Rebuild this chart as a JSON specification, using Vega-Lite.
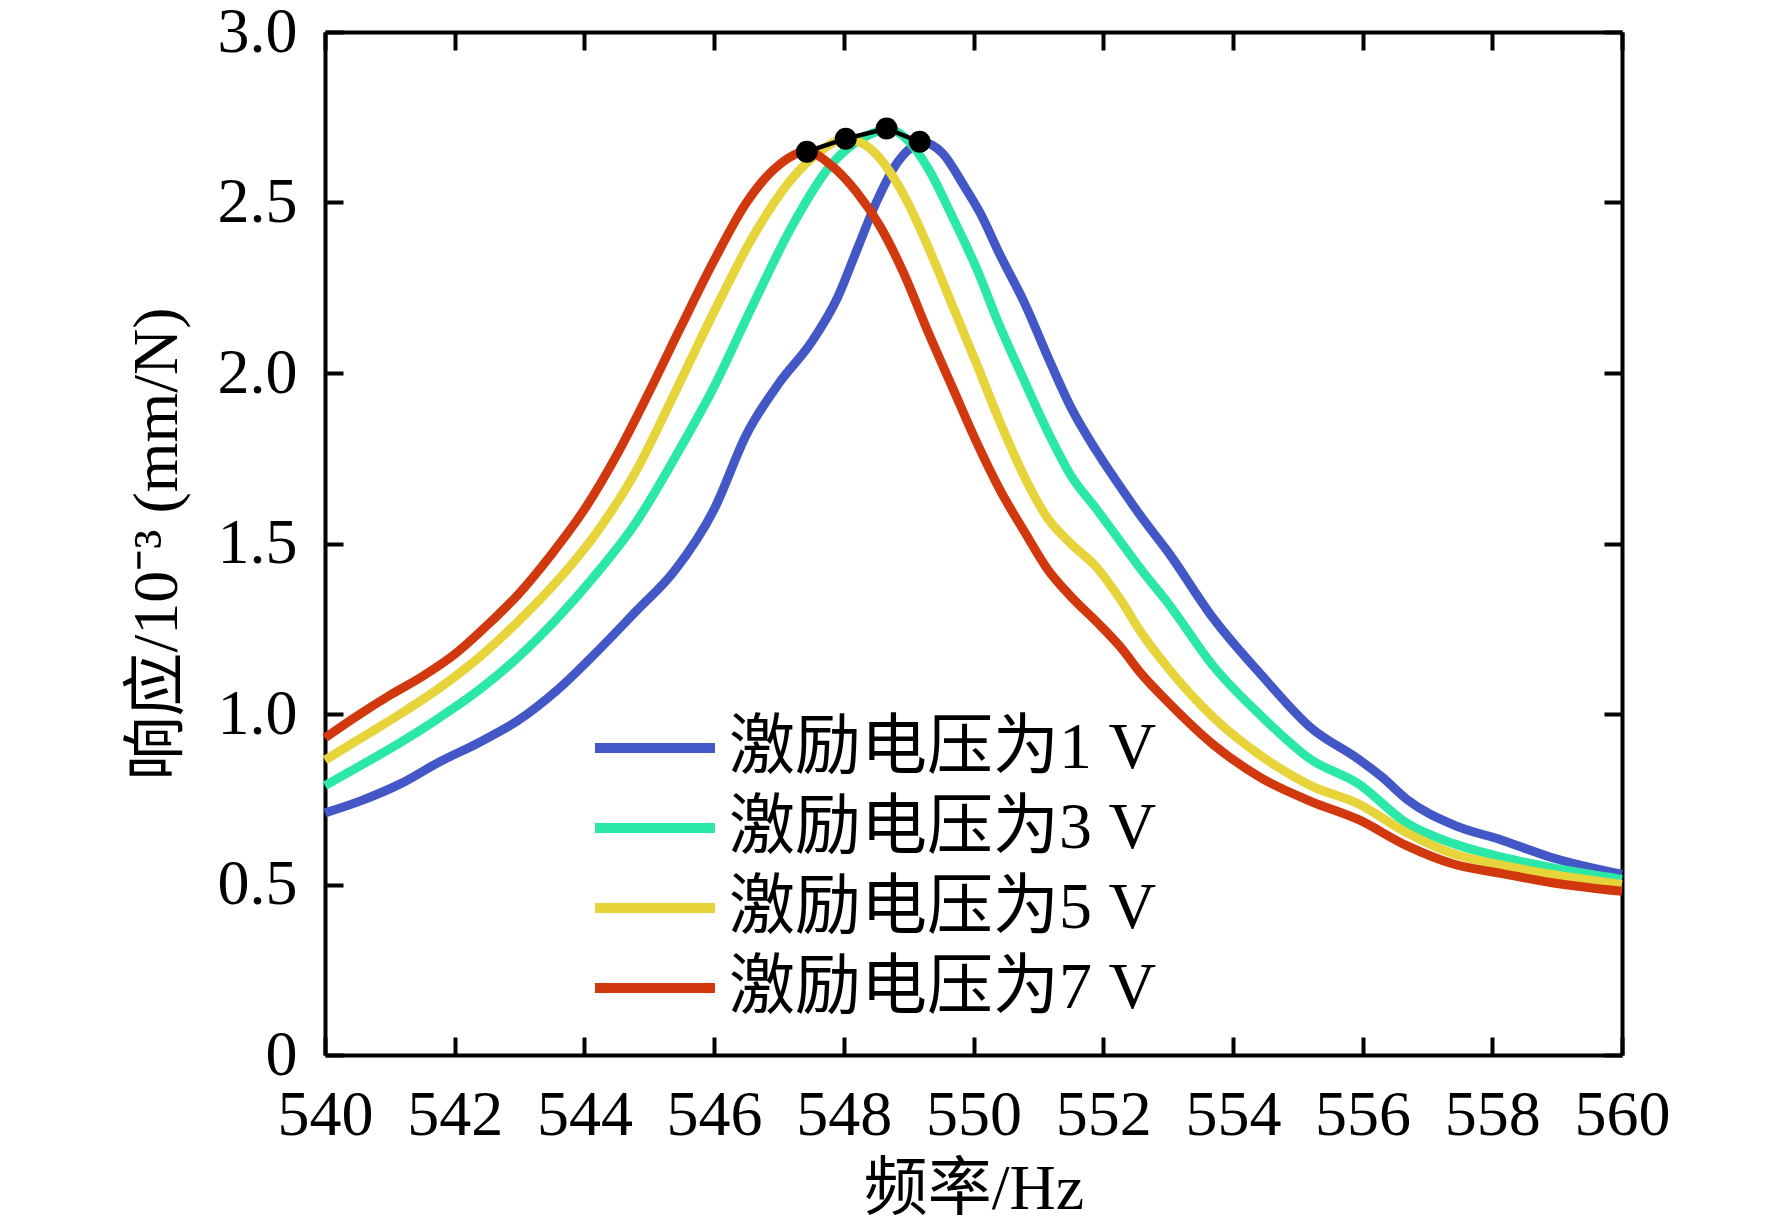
{
  "$schema": "https://vega.github.io/schema/vega-lite/v6.json",
  "width": 1297,
  "height": 1023,
  "autosize": {"type": "none"},
  "padding": {"left": 325, "top": 32, "right": 150, "bottom": 174},
  "background": "white",
  "config": {
    "view": {"stroke": null},
    "font": "'Liberation Serif', 'Noto Sans CJK SC'",
    "axis": {
      "grid": false,
      "domainColor": "black",
      "domainWidth": 4,
      "tickColor": "black",
      "tickWidth": 4,
      "tickSize": -18,
      "labelFont": "'Liberation Serif', 'Noto Sans CJK SC'",
      "labelFontSize": 64,
      "labelColor": "black",
      "labelPadding": 46,
      "labelOverlap": false,
      "labelFlush": false,
      "titleFont": "'Liberation Serif', 'Noto Sans CJK SC'",
      "titleFontSize": 64,
      "titleFontWeight": "normal",
      "titleColor": "black"
    },
    "legend": {
      "labelFont": "'Liberation Serif', 'Noto Sans CJK SC'",
      "labelFontSize": 66,
      "labelColor": "black",
      "labelLimit": 0
    }
  },
  "datasets": {
    "curves": [
      {"f": 540, "v": 0.71, "s": "激励电压为1 V"},
      {"f": 540.56, "v": 0.746, "s": "激励电压为1 V"},
      {"f": 541.16, "v": 0.795, "s": "激励电压为1 V"},
      {"f": 541.77, "v": 0.86, "s": "激励电压为1 V"},
      {"f": 542.37, "v": 0.916, "s": "激励电压为1 V"},
      {"f": 542.97, "v": 0.98, "s": "激励电压为1 V"},
      {"f": 543.58, "v": 1.07, "s": "激励电压为1 V"},
      {"f": 544.18, "v": 1.18, "s": "激励电压为1 V"},
      {"f": 544.79, "v": 1.3, "s": "激励电压为1 V"},
      {"f": 545.39, "v": 1.42, "s": "激励电压为1 V"},
      {"f": 546.0, "v": 1.6, "s": "激励电压为1 V"},
      {"f": 546.5, "v": 1.82, "s": "激励电压为1 V"},
      {"f": 547.0, "v": 1.97, "s": "激励电压为1 V"},
      {"f": 547.5, "v": 2.09, "s": "激励电压为1 V"},
      {"f": 547.9, "v": 2.22, "s": "激励电压为1 V"},
      {"f": 548.2, "v": 2.36, "s": "激励电压为1 V"},
      {"f": 548.5, "v": 2.5, "s": "激励电压为1 V"},
      {"f": 548.8, "v": 2.61, "s": "激励电压为1 V"},
      {"f": 549.0, "v": 2.655, "s": "激励电压为1 V"},
      {"f": 549.22, "v": 2.676, "s": "激励电压为1 V"},
      {"f": 549.52, "v": 2.645, "s": "激励电压为1 V"},
      {"f": 549.85, "v": 2.55, "s": "激励电压为1 V"},
      {"f": 550.1, "v": 2.47, "s": "激励电压为1 V"},
      {"f": 550.4, "v": 2.35, "s": "激励电压为1 V"},
      {"f": 550.8, "v": 2.2, "s": "激励电压为1 V"},
      {"f": 551.14, "v": 2.05, "s": "激励电压为1 V"},
      {"f": 551.5, "v": 1.9, "s": "激励电压为1 V"},
      {"f": 551.9, "v": 1.77, "s": "激励电压为1 V"},
      {"f": 552.25, "v": 1.67, "s": "激励电压为1 V"},
      {"f": 552.6, "v": 1.575, "s": "激励电压为1 V"},
      {"f": 553.0, "v": 1.475, "s": "激励电压为1 V"},
      {"f": 553.7, "v": 1.28, "s": "激励电压为1 V"},
      {"f": 554.46, "v": 1.11, "s": "激励电压为1 V"},
      {"f": 555.2, "v": 0.96, "s": "激励电压为1 V"},
      {"f": 555.94, "v": 0.867, "s": "激励电压为1 V"},
      {"f": 556.3, "v": 0.815, "s": "激励电压为1 V"},
      {"f": 556.68, "v": 0.75, "s": "激励电压为1 V"},
      {"f": 557.4, "v": 0.675, "s": "激励电压为1 V"},
      {"f": 558.15, "v": 0.63, "s": "激励电压为1 V"},
      {"f": 558.9, "v": 0.58, "s": "激励电压为1 V"},
      {"f": 560, "v": 0.53, "s": "激励电压为1 V"},

      {"f": 540, "v": 0.79, "s": "激励电压为3 V"},
      {"f": 540.56, "v": 0.85, "s": "激励电压为3 V"},
      {"f": 541.16, "v": 0.916, "s": "激励电压为3 V"},
      {"f": 541.77, "v": 0.99, "s": "激励电压为3 V"},
      {"f": 542.37, "v": 1.07, "s": "激励电压为3 V"},
      {"f": 542.97, "v": 1.165, "s": "激励电压为3 V"},
      {"f": 543.58, "v": 1.28, "s": "激励电压为3 V"},
      {"f": 544.18, "v": 1.41, "s": "激励电压为3 V"},
      {"f": 544.79, "v": 1.56, "s": "激励电压为3 V"},
      {"f": 545.39, "v": 1.75, "s": "激励电压为3 V"},
      {"f": 546.0, "v": 1.96, "s": "激励电压为3 V"},
      {"f": 546.6, "v": 2.2, "s": "激励电压为3 V"},
      {"f": 547.2, "v": 2.43, "s": "激励电压为3 V"},
      {"f": 547.8, "v": 2.61, "s": "激励电压为3 V"},
      {"f": 548.3, "v": 2.69, "s": "激励电压为3 V"},
      {"f": 548.71, "v": 2.715, "s": "激励电压为3 V"},
      {"f": 549.0, "v": 2.68, "s": "激励电压为3 V"},
      {"f": 549.3, "v": 2.6, "s": "激励电压为3 V"},
      {"f": 549.67, "v": 2.46, "s": "激励电压为3 V"},
      {"f": 550.04, "v": 2.31, "s": "激励电压为3 V"},
      {"f": 550.4, "v": 2.14, "s": "激励电压为3 V"},
      {"f": 550.8, "v": 1.97, "s": "激励电压为3 V"},
      {"f": 551.14, "v": 1.83, "s": "激励电压为3 V"},
      {"f": 551.5, "v": 1.7, "s": "激励电压为3 V"},
      {"f": 551.9, "v": 1.6, "s": "激励电压为3 V"},
      {"f": 552.25, "v": 1.51, "s": "激励电压为3 V"},
      {"f": 552.6, "v": 1.42, "s": "激励电压为3 V"},
      {"f": 553.0, "v": 1.325, "s": "激励电压为3 V"},
      {"f": 553.7, "v": 1.14, "s": "激励电压为3 V"},
      {"f": 554.46, "v": 0.99, "s": "激励电压为3 V"},
      {"f": 555.2, "v": 0.867, "s": "激励电压为3 V"},
      {"f": 555.94, "v": 0.795, "s": "激励电压为3 V"},
      {"f": 556.68, "v": 0.68, "s": "激励电压为3 V"},
      {"f": 557.4, "v": 0.62, "s": "激励电压为3 V"},
      {"f": 558.15, "v": 0.58, "s": "激励电压为3 V"},
      {"f": 558.9, "v": 0.55, "s": "激励电压为3 V"},
      {"f": 560, "v": 0.515, "s": "激励电压为3 V"},

      {"f": 540, "v": 0.865, "s": "激励电压为5 V"},
      {"f": 540.56, "v": 0.93, "s": "激励电压为5 V"},
      {"f": 541.16, "v": 1.0, "s": "激励电压为5 V"},
      {"f": 541.77, "v": 1.077, "s": "激励电压为5 V"},
      {"f": 542.37, "v": 1.165, "s": "激励电压为5 V"},
      {"f": 542.97, "v": 1.27, "s": "激励电压为5 V"},
      {"f": 543.58, "v": 1.39, "s": "激励电压为5 V"},
      {"f": 544.18, "v": 1.53, "s": "激励电压为5 V"},
      {"f": 544.79, "v": 1.71, "s": "激励电压为5 V"},
      {"f": 545.39, "v": 1.94, "s": "激励电压为5 V"},
      {"f": 546.0, "v": 2.18, "s": "激励电压为5 V"},
      {"f": 546.6, "v": 2.4, "s": "激励电压为5 V"},
      {"f": 547.2, "v": 2.57, "s": "激励电压为5 V"},
      {"f": 547.6, "v": 2.645, "s": "激励电压为5 V"},
      {"f": 548.03, "v": 2.687, "s": "激励电压为5 V"},
      {"f": 548.42, "v": 2.656, "s": "激励电压为5 V"},
      {"f": 548.93, "v": 2.52, "s": "激励电压为5 V"},
      {"f": 549.3, "v": 2.37, "s": "激励电压为5 V"},
      {"f": 549.67, "v": 2.2, "s": "激励电压为5 V"},
      {"f": 550.04, "v": 2.03, "s": "激励电压为5 V"},
      {"f": 550.4, "v": 1.86, "s": "激励电压为5 V"},
      {"f": 550.8, "v": 1.69, "s": "激励电压为5 V"},
      {"f": 551.14, "v": 1.575, "s": "激励电压为5 V"},
      {"f": 551.5, "v": 1.5, "s": "激励电压为5 V"},
      {"f": 551.9, "v": 1.43, "s": "激励电压为5 V"},
      {"f": 552.25, "v": 1.34, "s": "激励电压为5 V"},
      {"f": 552.6, "v": 1.235, "s": "激励电压为5 V"},
      {"f": 553.0, "v": 1.135, "s": "激励电压为5 V"},
      {"f": 553.7, "v": 0.99, "s": "激励电压为5 V"},
      {"f": 554.46, "v": 0.874, "s": "激励电压为5 V"},
      {"f": 555.2, "v": 0.79, "s": "激励电压为5 V"},
      {"f": 555.94, "v": 0.736, "s": "激励电压为5 V"},
      {"f": 556.68, "v": 0.652, "s": "激励电压为5 V"},
      {"f": 557.4, "v": 0.59, "s": "激励电压为5 V"},
      {"f": 558.15, "v": 0.557, "s": "激励电压为5 V"},
      {"f": 558.9, "v": 0.53, "s": "激励电压为5 V"},
      {"f": 560, "v": 0.5, "s": "激励电压为5 V"},

      {"f": 540, "v": 0.93, "s": "激励电压为7 V"},
      {"f": 540.5, "v": 0.995, "s": "激励电压为7 V"},
      {"f": 541, "v": 1.055, "s": "激励电压为7 V"},
      {"f": 541.5, "v": 1.11, "s": "激励电压为7 V"},
      {"f": 542, "v": 1.175, "s": "激励电压为7 V"},
      {"f": 542.5, "v": 1.26, "s": "激励电压为7 V"},
      {"f": 543, "v": 1.355, "s": "激励电压为7 V"},
      {"f": 543.5, "v": 1.47, "s": "激励电压为7 V"},
      {"f": 544, "v": 1.6, "s": "激励电压为7 V"},
      {"f": 544.5, "v": 1.76, "s": "激励电压为7 V"},
      {"f": 545, "v": 1.945, "s": "激励电压为7 V"},
      {"f": 545.5, "v": 2.14, "s": "激励电压为7 V"},
      {"f": 546, "v": 2.33, "s": "激励电压为7 V"},
      {"f": 546.5, "v": 2.5, "s": "激励电压为7 V"},
      {"f": 547, "v": 2.61, "s": "激励电压为7 V"},
      {"f": 547.43, "v": 2.65, "s": "激励电压为7 V"},
      {"f": 547.8, "v": 2.61, "s": "激励电压为7 V"},
      {"f": 548.2, "v": 2.53, "s": "激励电压为7 V"},
      {"f": 548.56, "v": 2.43, "s": "激励电压为7 V"},
      {"f": 548.93, "v": 2.29, "s": "激励电压为7 V"},
      {"f": 549.3, "v": 2.12, "s": "激励电压为7 V"},
      {"f": 549.67, "v": 1.96, "s": "激励电压为7 V"},
      {"f": 550.04, "v": 1.8, "s": "激励电压为7 V"},
      {"f": 550.4, "v": 1.66, "s": "激励电压为7 V"},
      {"f": 550.8, "v": 1.53, "s": "激励电压为7 V"},
      {"f": 551.14, "v": 1.425, "s": "激励电压为7 V"},
      {"f": 551.5, "v": 1.345, "s": "激励电压为7 V"},
      {"f": 551.9, "v": 1.27, "s": "激励电压为7 V"},
      {"f": 552.25, "v": 1.2, "s": "激励电压为7 V"},
      {"f": 552.6, "v": 1.115, "s": "激励电压为7 V"},
      {"f": 553.0, "v": 1.035, "s": "激励电压为7 V"},
      {"f": 553.7, "v": 0.91, "s": "激励电压为7 V"},
      {"f": 554.46, "v": 0.81, "s": "激励电压为7 V"},
      {"f": 555.2, "v": 0.744, "s": "激励电压为7 V"},
      {"f": 555.94, "v": 0.69, "s": "激励电压为7 V"},
      {"f": 556.68, "v": 0.614, "s": "激励电压为7 V"},
      {"f": 557.4, "v": 0.56, "s": "激励电压为7 V"},
      {"f": 558.15, "v": 0.532, "s": "激励电压为7 V"},
      {"f": 558.9, "v": 0.506, "s": "激励电压为7 V"},
      {"f": 560, "v": 0.48, "s": "激励电压为7 V"}
    ],
    "peaks": [
      {"f": 547.43, "v": 2.649},
      {"f": 548.03, "v": 2.687},
      {"f": 548.66, "v": 2.717},
      {"f": 549.17, "v": 2.678}
    ]
  },
  "layer": [
    {
      "data": {"name": "curves"},
      "mark": {"type": "line", "strokeWidth": 9, "interpolate": "monotone", "strokeCap": "butt"},
      "encoding": {
        "x": {
          "field": "f", "type": "quantitative",
          "scale": {"domain": [540, 560], "nice": false, "zero": false},
          "axis": {
            "orient": "bottom",
            "values": [540, 542, 544, 546, 548, 550, 552, 554, 556, 558, 560],
            "title": "频率/Hz",
            "titlePadding": 10
          }
        },
        "y": {
          "field": "v", "type": "quantitative",
          "scale": {"domain": [0, 3], "nice": false},
          "axis": {
            "orient": "left",
            "values": [0, 0.5, 1, 1.5, 2, 2.5, 3],
            "labelExpr": "datum.value == 0 ? '0' : format(datum.value, '.1f')",
            "title": "响应/10⁻³ (mm/N)",
            "titlePadding": 28
          }
        },
        "color": {
          "field": "s", "type": "nominal",
          "scale": {
            "domain": ["激励电压为1 V", "激励电压为3 V", "激励电压为5 V", "激励电压为7 V"],
            "range": ["#4457c7", "#2be8a8", "#e6d43a", "#d2380e"]
          },
          "legend": {
            "orient": "none",
            "legendX": 265,
            "legendY": 676,
            "title": null,
            "padding": 0,
            "symbolType": "stroke",
            "symbolSize": 14400,
            "symbolStrokeWidth": 10,
            "labelOffset": 9,
            "clipHeight": 80,
            "rowPadding": 0
          }
        }
      }
    },
    {
      "data": {"name": "peaks"},
      "mark": {
        "type": "line",
        "color": "black",
        "strokeWidth": 4.5,
        "point": {"filled": true, "size": 480, "color": "black"}
      },
      "encoding": {
        "x": {
          "field": "f", "type": "quantitative",
          "axis": {
            "orient": "top",
            "values": [540, 542, 544, 546, 548, 550, 552, 554, 556, 558, 560],
            "labels": false,
            "title": null
          }
        },
        "y": {
          "field": "v", "type": "quantitative",
          "axis": {
            "orient": "right",
            "values": [0, 0.5, 1, 1.5, 2, 2.5, 3],
            "labels": false,
            "title": null
          }
        }
      }
    }
  ],
  "resolve": {"axis": {"x": "independent", "y": "independent"}}
}
